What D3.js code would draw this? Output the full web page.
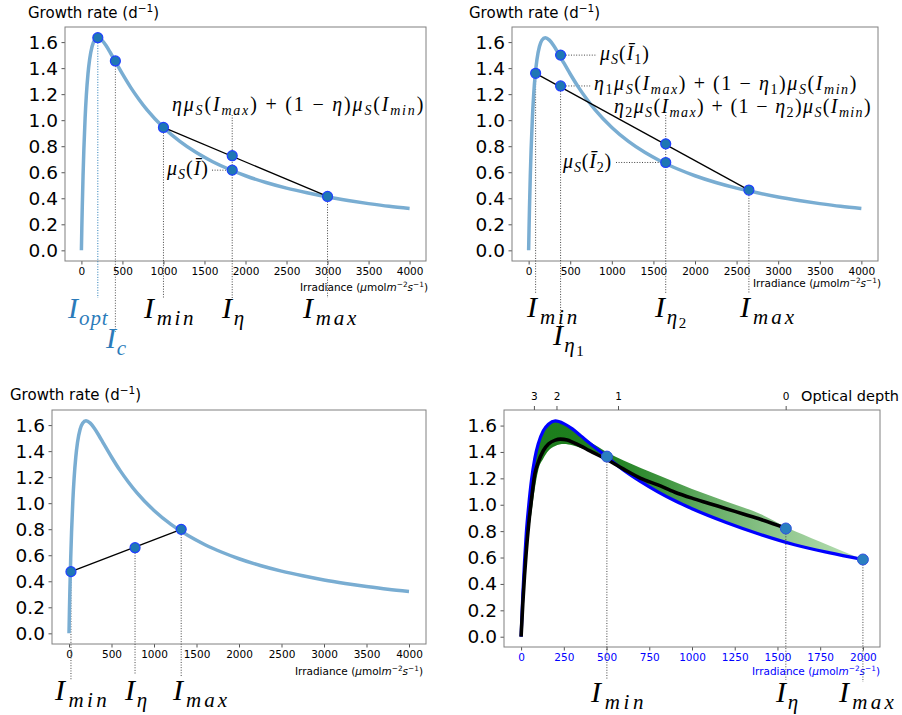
<!DOCTYPE html>
<html><head><meta charset="utf-8">
<script src="https://cdn.jsdelivr.net/npm/d3@7"></script>
<style>body{margin:0;background:#fff;} svg{display:block;} text{white-space:pre;}</style>
</head><body><svg id="c" width="902" height="715"></svg>
<script>
// ---------- data ----------
const yTickVals = [0.0, 0.2, 0.4, 0.6, 0.8, 1.0, 1.2, 1.4, 1.6];
const xTicks4000 = [0, 500, 1000, 1500, 2000, 2500, 3000, 3500, 4000];
const xTicks2000 = [0, 250, 500, 750, 1000, 1250, 1500, 1750, 2000];

// growth curve mu_S(I) used in panels 1-3
const muI   = [0, 5, 10, 20, 30, 45, 60, 80, 100, 130, 160, 200, 250, 300, 350, 400, 500, 600, 700, 800, 1000, 1200, 1400, 1600, 1800, 2000, 2250, 2500, 2750, 3000, 3250, 3500, 3750, 4000];
const muVal = [0, 0.169, 0.319, 0.573, 0.778, 1.015, 1.190, 1.355, 1.466, 1.566, 1.615, 1.634, 1.615, 1.574, 1.522, 1.466, 1.355, 1.252, 1.161, 1.079, 0.944, 0.837, 0.751, 0.681, 0.623, 0.573, 0.521, 0.478, 0.442, 0.410, 0.383, 0.359, 0.338, 0.322];

// panel 1 points
const p1I     = [200, 414, 1000, 1838, 3000];
const p1Mu    = [1.634, 1.455, 0.944, 0.616, 0.414];
const p1ChordI  = [1000, 1838, 3000];
const p1ChordMu = [0.944, 0.727, 0.414];

// panel 2 points
const p2CurveI  = [384, 1648];
const p2CurveMu = [1.500, 0.675];
const p2ChordI  = [84, 384, 1648, 2648];
const p2ChordMu = [1.360, 1.263, 0.818, 0.463];

// panel 3 points
const p3ChordI  = [23, 777, 1320];
const p3ChordMu = [0.474, 0.658, 0.799];

// panel 4 curves
const blueI   = [0, 10, 20, 30, 45, 60, 80, 100, 130, 160, 200, 250, 300, 350, 400, 500, 600, 700, 800, 900, 1000, 1200, 1400, 1600, 1800, 2000];
const blueMu  = [0, 0.32, 0.57, 0.78, 1.00, 1.18, 1.35, 1.46, 1.56, 1.61, 1.635, 1.615, 1.575, 1.522, 1.468, 1.365, 1.262, 1.175, 1.098, 1.030, 0.970, 0.866, 0.775, 0.697, 0.637, 0.585];
const blackI  = [0, 10, 20, 30, 45, 60, 80, 100, 130, 160, 200, 230, 270, 300, 350, 400, 500, 600, 700, 800, 900, 1000, 1100, 1200, 1300, 1400, 1549];
const blackMu = [0, 0.25, 0.46, 0.64, 0.86, 1.03, 1.23, 1.32, 1.41, 1.46, 1.49, 1.497, 1.49, 1.475, 1.445, 1.41, 1.345, 1.27, 1.20, 1.15, 1.095, 1.05, 1.01, 0.97, 0.93, 0.89, 0.823];
const bandI     = [0, 10, 20, 30, 45, 60, 80, 100, 130, 160, 200, 250, 300, 350, 400, 450, 500, 600, 700, 800, 900, 1000, 1200, 1400, 1549, 1750, 2000];
const bandUpper = [0, 0.32, 0.57, 0.78, 1.00, 1.18, 1.35, 1.46, 1.56, 1.61, 1.635, 1.615, 1.575, 1.525, 1.48, 1.44, 1.40, 1.335, 1.278, 1.225, 1.172, 1.12, 1.025, 0.93, 0.832, 0.72, 0.585];
const bandLower = [0, 0.22, 0.42, 0.58, 0.78, 0.93, 1.12, 1.26, 1.35, 1.41, 1.445, 1.46, 1.45, 1.43, 1.41, 1.39, 1.362, 1.262, 1.175, 1.098, 1.030, 0.970, 0.866, 0.775, 0.72, 0.655, 0.585];
const p4PtsI  = [502, 1549, 2000];
const p4PtsMu = [1.365, 0.820, 0.585];
const depthTicks = [3, 2, 1, 0];
const depthTickI = [78, 210, 570, 1551];

// ---------- helpers ----------
const svg = d3.select('#c');
const SANS = "'DejaVu Sans', sans-serif";
const SERIF = "'Liberation Serif','DejaVu Serif',serif";
const CURVE = '#79add2';
const PTFILL = '#1f77b4', PTSTROKE = '#2040ff';

function rich(parent, segs, size, family, color) {
  const t = parent.append('text').attr('font-family', family).attr('font-size', size).attr('fill', color || '#000');
  let cur = 0;
  segs.forEach(([s, k]) => {
    const sub = k === 'sub' || k === 'subr', sup = k === 'sup', ss = k === 'subsub';
    const target = ss ? size * 0.36 : sub ? size * 0.22 : sup ? -size * 0.42 : 0;
    const ts = t.append('tspan').text(s);
    if (target !== cur) ts.attr('dy', target - cur);
    cur = target;
    if (sub || sup) ts.attr('font-size', size * 0.7);
    if (ss) ts.attr('font-size', size * 0.5);
    if (k === 'i' || k === 'sub') ts.attr('font-style', 'italic');
  });
  return t;
}
// fit text to a target width using letter-spacing (keeps glyph strokes thin)
function place(t, x, y, width, anchorEnd) {
  let w = t.node().getBBox().width;
  let k = 1;
  if (width) {
    const n = t.text().length;
    if (width > w) {
      let ls = (width - w) / n;
      t.attr('letter-spacing', ls);
      w = t.node().getBBox().width;
      ls += (width - w) / n;
      t.attr('letter-spacing', ls);
      w = t.node().getBBox().width;
    } else {
      k = width / w;
    }
  }
  const xx = anchorEnd ? x - w * k : x;
  t.attr('transform', `translate(${xx},${y}) scale(${k},1)`);
  return t;
}

function panel(o) {
  const x = d3.scaleLinear().domain(o.xd).range([o.l, o.r]);
  const y = d3.scaleLinear().domain(o.yd).range([o.b, o.t]);
  const g = svg.append('g');
  const xa = g.append('g').attr('transform', `translate(0,${o.b})`)
    .call(d3.axisBottom(x).tickValues(o.xt).tickSize(3.5).tickPadding(3.5).tickFormat(d3.format('d')));
  xa.select('.domain').remove();
  xa.selectAll('line').attr('stroke', '#555');
  xa.selectAll('text').attr('font-family', SANS).attr('font-size', 10.5).attr('fill', o.xColor || '#000');
  const ya = g.append('g').attr('transform', `translate(${o.l},0)`)
    .call(d3.axisLeft(y).tickValues(yTickVals).tickSize(3.5).tickPadding(3.5).tickFormat(d3.format('.1f')));
  ya.select('.domain').remove();
  ya.selectAll('line').attr('stroke', '#555');
  ya.selectAll('text').attr('font-family', SANS).attr('font-size', 18.5).attr('fill', '#000');
  g.append('rect').attr('x', o.l).attr('y', o.t).attr('width', o.r - o.l).attr('height', o.b - o.t)
    .attr('fill', 'none').attr('stroke', '#808080').attr('stroke-width', 1);
  const xl = rich(g, [['Irradiance (', 'r'], ['μ', 'i'], ['mol', 'r'], ['m', 'i'], ['−2', 'sup'], ['s', 'i'], ['−1', 'sup'], [')', 'r']], 10.5, SANS, o.xColor || '#000');
  place(xl, o.xlx, o.xly, null, true);
  if (o.title) {
    const tl = rich(g, [['Growth rate (d', 'r'], ['−1', 'sup'], [')', 'r']], 15, SANS, '#000');
    place(tl, o.title[0], o.title[1]);
  }
  const layer = g.append('g');
  return { g: layer, x, y };
}

function line(P, I, M, color, w) {
  P.g.append('path').datum(d3.range(I.length))
    .attr('d', d3.line().x(i => P.x(I[i])).y(i => P.y(M[i])).curve(d3.curveMonotoneX))
    .attr('fill', 'none').attr('stroke', color).attr('stroke-width', w)
    .attr('stroke-linejoin', 'round').attr('stroke-linecap', 'butt');
}
function straight(P, I, M) {
  P.g.append('path').datum(d3.range(I.length))
    .attr('d', d3.line().x(i => P.x(I[i])).y(i => P.y(M[i])))
    .attr('fill', 'none').attr('stroke', '#000').attr('stroke-width', 1.3);
}
function dots(P, I, M) {
  P.g.selectAll(null).data(d3.range(I.length)).enter().append('circle')
    .attr('cx', i => P.x(I[i])).attr('cy', i => P.y(M[i])).attr('r', 5)
    .attr('fill', PTFILL).attr('stroke', PTSTROKE).attr('stroke-width', 1.2);
}
function vdot(P, I, y1, y2, color) {
  P.g.append('line').attr('x1', P.x(I)).attr('x2', P.x(I)).attr('y1', y1).attr('y2', y2)
    .attr('stroke', color || '#444').attr('stroke-width', 1).attr('stroke-dasharray', '1 1.6');
}
function hdot(P, x1, x2, y) {
  P.g.append('line').attr('x1', x1).attr('x2', x2).attr('y1', y).attr('y2', y)
    .attr('stroke', '#444').attr('stroke-width', 1).attr('stroke-dasharray', '1 1.6');
}
function bigLabel(parent, name, sub, x, y, w, color) {
  const t = rich(parent, [[name, 'i'], [sub, 'sub']], 30, SERIF, color || '#000');
  place(t, x, y, w);
}
const muS = (arg) => [['μ', 'i'], ['S', 'sub'], ['(', 'r']].concat(arg).concat([[')', 'r']]);
function chordFormula(etaSegs) {
  return etaSegs.concat(muS([['I', 'i'], ['max', 'sub']]))
    .concat([[' + (1 − ', 'r']]).concat(etaSegs).concat([[')', 'r']])
    .concat(muS([['I', 'i'], ['min', 'sub']]));
}

// ---------- Panel 1 ----------
const P1 = panel({ l: 65, r: 426, t: 27, b: 261, xd: [-200, 4200], yd: [-0.082, 1.716], xt: xTicks4000, xlx: 428, xly: 291, title: [28, 18] });
vdot(P1, p1I[0], P1.y(p1Mu[0]), 298, '#1f77b4');
vdot(P1, p1I[1], P1.y(p1Mu[1]), 332, '#555');
vdot(P1, p1I[2], P1.y(p1Mu[2]), 298);
vdot(P1, p1I[3], 115, 298);
vdot(P1, p1I[4], P1.y(p1Mu[4]), 298);
hdot(P1, 212, P1.x(p1I[3]), P1.y(p1Mu[3]));
line(P1, muI, muVal, CURVE, 3.5);
straight(P1, [p1ChordI[0], p1ChordI[2]], [p1ChordMu[0], p1ChordMu[2]]);
dots(P1, p1I, p1Mu);
dots(P1, [p1ChordI[1]], [p1ChordMu[1]]);
place(rich(P1.g, chordFormula([['η', 'i']]), 20, SERIF), 172, 111, 253);
place(rich(P1.g, muS([['Ī', 'i']]), 20, SERIF), 167, 175, 43);
bigLabel(P1.g, 'I', 'opt', 68, 318, 42, '#2b7bba');
bigLabel(P1.g, 'I', 'c', 106, 348, 22, '#2b7bba');
bigLabel(P1.g, 'I', 'min', 144, 318, 53);
bigLabel(P1.g, 'I', 'η', 222, 318, 25);
bigLabel(P1.g, 'I', 'max', 303, 318, 57);

// ---------- Panel 2 ----------
const P2 = panel({ l: 512, r: 878, t: 27, b: 261, xd: [-200, 4200], yd: [-0.082, 1.716], xt: xTicks4000, xlx: 881, xly: 287, title: [469, 18] });
vdot(P2, p2ChordI[0], P2.y(p2ChordMu[0]), 293);
vdot(P2, p2ChordI[1], P2.y(p2ChordMu[1]), 330);
vdot(P2, p2ChordI[2], 115, 293);
vdot(P2, p2ChordI[3], P2.y(p2ChordMu[3]), 293);
hdot(P2, P2.x(p2CurveI[0]), 597, P2.y(p2CurveMu[0]));
hdot(P2, P2.x(p2ChordI[1]), 591, P2.y(p2ChordMu[1]));
hdot(P2, 616, P2.x(p2CurveI[1]), P2.y(p2CurveMu[1]));
line(P2, muI, muVal, CURVE, 3.5);
straight(P2, [p2ChordI[0], p2ChordI[3]], [p2ChordMu[0], p2ChordMu[3]]);
dots(P2, p2ChordI, p2ChordMu);
dots(P2, p2CurveI, p2CurveMu);
place(rich(P2.g, muS([['Ī', 'i'], ['1', 'subr']]), 20, SERIF), 600, 60, 51);
place(rich(P2.g, chordFormula([['η', 'i'], ['1', 'subr']]), 20, SERIF), 594, 90, 264);
place(rich(P2.g, chordFormula([['η', 'i'], ['2', 'subr']]), 20, SERIF), 614, 112.5, 258);
place(rich(P2.g, muS([['Ī', 'i'], ['2', 'subr']]), 20, SERIF), 563, 168, 50);
bigLabel(P2.g, 'I', 'min', 527, 317, 54);
place(rich(P2.g, [['I', 'i'], ['η', 'sub'], ['1', 'subsub']], 30, SERIF), 553, 345, 33);
place(rich(P2.g, [['I', 'i'], ['η', 'sub'], ['2', 'subsub']], 30, SERIF), 655, 317, 34);
bigLabel(P2.g, 'I', 'max', 740, 317, 58);

// ---------- Panel 3 ----------
const P3 = panel({ l: 52, r: 426, t: 410, b: 644, xd: [-200, 4200], yd: [-0.082, 1.716], xt: xTicks4000, xlx: 423, xly: 675, title: [10, 400] });
vdot(P3, p3ChordI[0], P3.y(p3ChordMu[0]), 680);
vdot(P3, p3ChordI[1], P3.y(p3ChordMu[1]), 675);
vdot(P3, p3ChordI[2], P3.y(p3ChordMu[2]), 677);
line(P3, muI, muVal, CURVE, 3.5);
straight(P3, [p3ChordI[0], p3ChordI[2]], [p3ChordMu[0], p3ChordMu[2]]);
dots(P3, p3ChordI, p3ChordMu);
bigLabel(P3.g, 'I', 'min', 55, 700, 56);
bigLabel(P3.g, 'I', 'η', 125, 700, 25);
bigLabel(P3.g, 'I', 'max', 173, 700, 58);

// ---------- Panel 4 ----------
const P4 = panel({ l: 504, r: 880, t: 410, b: 647, xd: [-100, 2100], yd: [-0.078, 1.718], xt: xTicks2000, xColor: '#0000ff', xlx: 880, xly: 675 });
const topAx = svg.append('g');
depthTicks.forEach((d, i) => {
  const xx = P4.x(depthTickI[i]);
  topAx.append('line').attr('x1', xx).attr('x2', xx).attr('y1', 410).attr('y2', 406).attr('stroke', '#555');
  topAx.append('text').attr('x', xx).attr('y', 400).attr('text-anchor', 'middle')
    .attr('font-family', SANS).attr('font-size', 10.5).text(d);
});
topAx.append('text').attr('x', 801).attr('y', 401).attr('font-family', SANS).attr('font-size', 14.5).text('Optical depth');

const defs = svg.append('defs');
const grad = defs.append('linearGradient').attr('id', 'gband').attr('gradientUnits', 'userSpaceOnUse')
  .attr('x1', P4.x(0)).attr('x2', P4.x(2000)).attr('y1', 0).attr('y2', 0);
[[0, '#1c7d1c'], [0.25, '#1f801f'], [0.4, '#3a923a'], [0.55, '#66ad66'], [0.75, '#8fc68d'], [1, '#b9e0b5']]
  .forEach(([o, c]) => grad.append('stop').attr('offset', o).attr('stop-color', c));
P4.g.append('path').datum(d3.range(bandI.length))
  .attr('d', d3.area().x(i => P4.x(bandI[i])).y0(i => P4.y(bandLower[i])).y1(i => P4.y(bandUpper[i])).curve(d3.curveMonotoneX))
  .attr('fill', 'url(#gband)');
line(P4, blueI, blueMu, '#0000ff', 3.2);
line(P4, blackI, blackMu, '#000', 3.6);
vdot(P4, p4PtsI[0], P4.y(p4PtsMu[0]), 680);
vdot(P4, p4PtsI[1], P4.y(p4PtsMu[1]), 680);
vdot(P4, p4PtsI[2], P4.y(p4PtsMu[2]), 682);
P4.g.selectAll(null).data(d3.range(p4PtsI.length)).enter().append('circle')
  .attr('cx', i => P4.x(p4PtsI[i])).attr('cy', i => P4.y(p4PtsMu[i])).attr('r', 5.5)
  .attr('fill', '#2a7fc0').attr('stroke', '#3050e0').attr('stroke-width', 1);
bigLabel(P4.g, 'I', 'min', 591, 702, 57);
bigLabel(P4.g, 'I', 'η', 776, 702, 25);
bigLabel(P4.g, 'I', 'max', 839, 702, 59);
</script></body></html>
